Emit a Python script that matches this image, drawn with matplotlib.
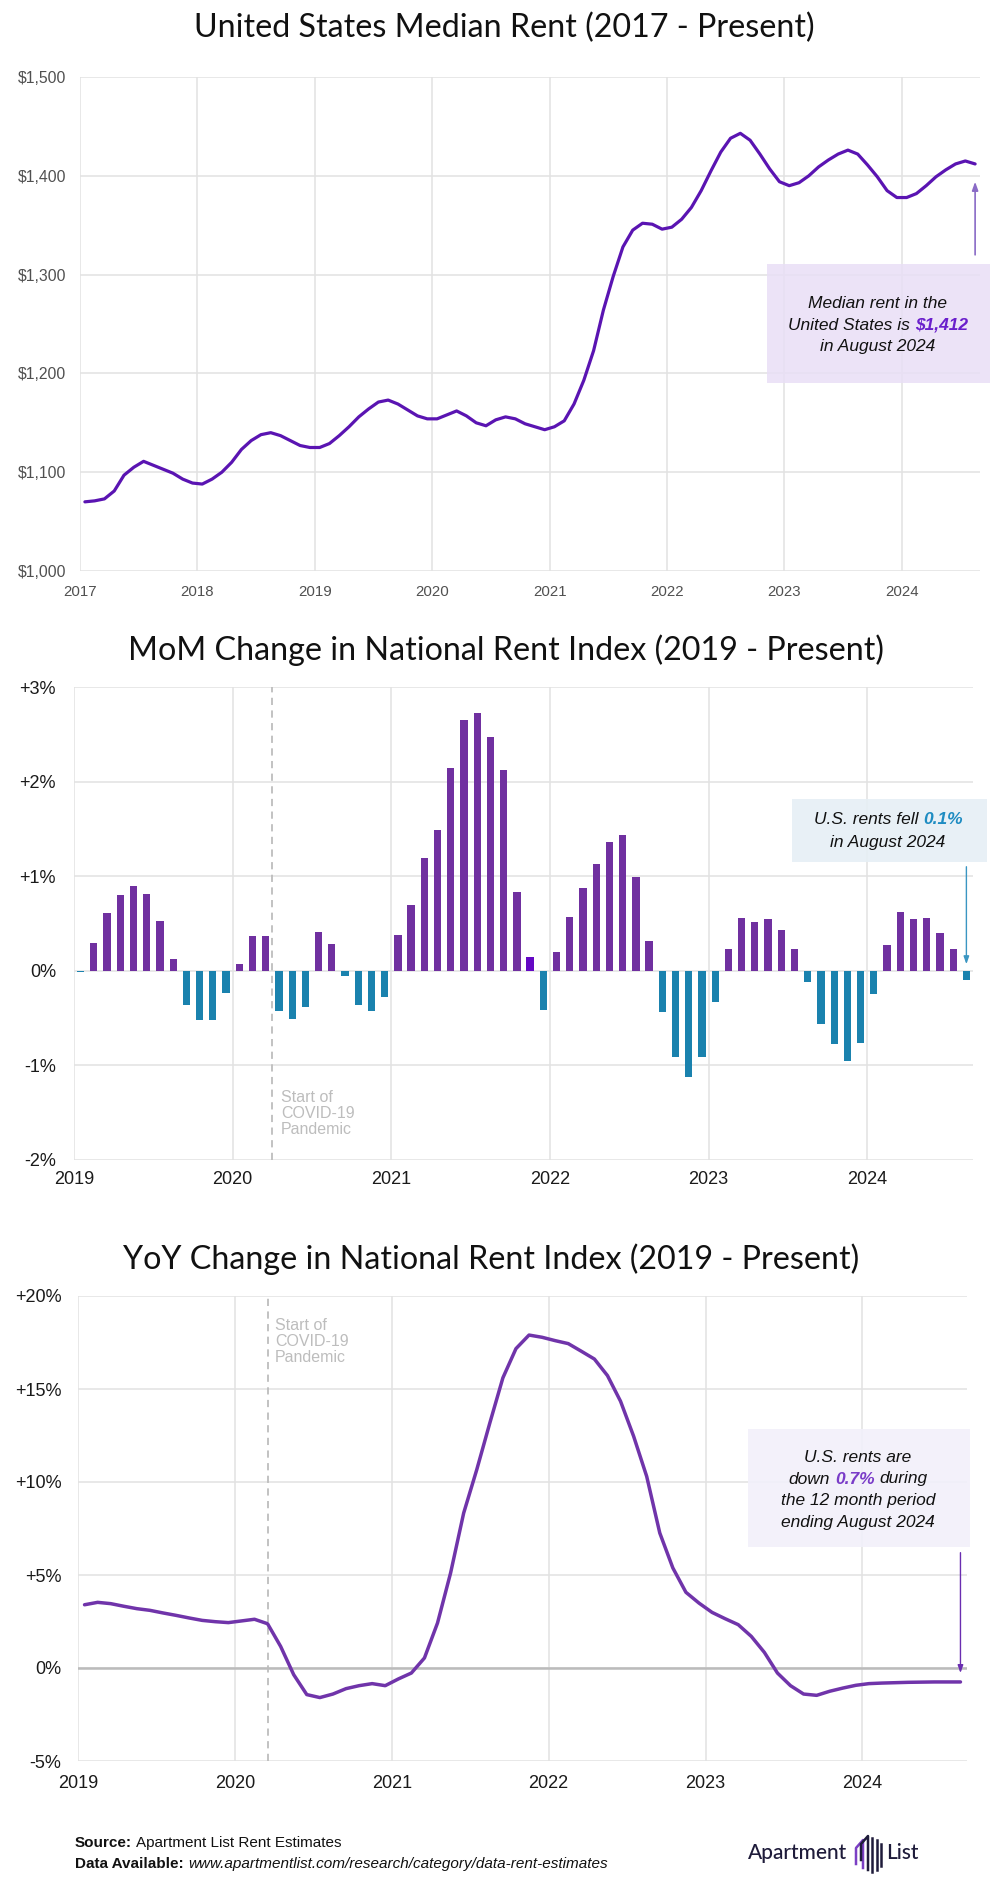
import numpy as np
import matplotlib
matplotlib.use("Agg")
import matplotlib.pyplot as plt
from matplotlib.patches import Rectangle
from matplotlib.lines import Line2D
from matplotlib.ticker import FuncFormatter

# ---- data ----
rent_start_year = 2017
median_rent = [
    1070, 1071, 1073, 1081, 1097, 1105, 1111, 1107, 1103, 1099, 1093, 1089,  # 2017
    1088, 1093, 1100, 1110, 1123, 1132, 1138, 1140, 1137, 1132, 1127, 1125,  # 2018
    1125, 1129, 1137, 1146, 1156, 1164, 1171, 1173, 1169, 1163, 1157, 1154,  # 2019
    1154, 1158, 1162, 1157, 1150, 1147, 1153, 1156, 1154, 1149, 1146, 1143,  # 2020
    1146, 1152, 1169, 1193, 1223, 1264, 1298, 1328, 1345, 1352, 1351, 1346,  # 2021
    1348, 1356, 1368, 1385, 1405, 1424, 1438, 1443, 1436, 1422, 1407, 1394,  # 2022
    1390, 1393, 1400, 1409, 1416, 1422, 1426, 1422, 1411, 1399, 1385, 1378,  # 2023
    1378, 1382, 1390, 1399, 1406, 1412, 1415, 1412,                          # 2024
]

index_start_year = 2019
mom_change = [
    -0.01, 0.29, 0.61, 0.80, 0.90, 0.81, 0.53, 0.12, -0.36, -0.52, -0.52, -0.23,  # 2019
    0.07, 0.37, 0.37, -0.42, -0.51, -0.38, 0.41, 0.28, -0.05, -0.36, -0.43, -0.28,  # 2020
    0.38, 0.70, 1.19, 1.49, 2.14, 2.65, 2.73, 2.47, 2.12, 0.83, 0.15, -0.41,        # 2021
    0.20, 0.57, 0.88, 1.13, 1.36, 1.44, 0.99, 0.31, -0.44, -0.91, -1.12, -0.91,     # 2022
    -0.33, 0.23, 0.56, 0.52, 0.55, 0.43, 0.23, -0.12, -0.56, -0.77, -0.95, -0.76,   # 2023
    -0.24, 0.27, 0.62, 0.55, 0.56, 0.40, 0.23, -0.10,                               # 2024
]
yoy_change = [
    3.40, 3.53, 3.46, 3.32, 3.19, 3.10, 2.96, 2.83, 2.69, 2.56, 2.49, 2.44,          # 2019
    2.53, 2.62, 2.38, 1.16, -0.36, -1.43, -1.59, -1.40, -1.11, -0.95, -0.84, -0.95,  # 2020
    -0.59, -0.27, 0.54, 2.42, 5.11, 8.33, 10.66, 13.17, 15.60, 17.17, 17.90, 17.78,  # 2021
    17.60, 17.44, 17.03, 16.61, 15.72, 14.34, 12.46, 10.30, 7.26, 5.38, 4.07, 3.49,  # 2022
    2.99, 2.65, 2.33, 1.70, 0.84, -0.27, -0.95, -1.40, -1.47, -1.25, -1.08, -0.93,   # 2023
    -0.84, -0.81, -0.79, -0.77, -0.76, -0.75, -0.75, -0.75,                          # 2024
]
highlight_bar = 34  # Nov 2021 bar is drawn in a brighter violet in the original
covid_bar_x = 2020.25
covid_line_x = 2020 + 2.5 / 12

rent_years = list(range(2017, 2025))
index_years = list(range(2019, 2025))
rent_ticks = [1000, 1100, 1200, 1300, 1400, 1500]
mom_ticks = [-2, -1, 0, 1, 2, 3]
yoy_ticks = [-5, 0, 5, 10, 15, 20]

# ---- colours / fonts ----
PURPLE_LINE = "#5A14B2"
PURPLE_BAR = "#7030A0"
VIOLET_BAR = "#6408C4"
BLUE_BAR = "#1A82AE"
YOY_LINE = "#7034AA"
GRID = "#E2E2E2"
TITLE_FONT = "Lato"
SANS = ["Liberation Sans", "DejaVu Sans"]

W, H = 1008, 1902
fig = plt.figure(figsize=(W / 100, H / 100), dpi=100)
fig.patch.set_facecolor("white")


def fx(px):
    return px / W


def fy(py):
    return 1 - py / H


def month_x(start, n):
    return start + (np.arange(n) + 0.5) / 12


def style_axes(ax, xsize, ysize, tick_color, xpad, ypad):
    for s in ax.spines.values():
        s.set_visible(False)
    ax.grid(True, color=GRID, lw=1.1)
    ax.set_axisbelow(True)
    ax.tick_params(length=0, labelcolor=tick_color)
    ax.tick_params(axis="x", pad=xpad, labelsize=xsize)
    ax.tick_params(axis="y", pad=ypad, labelsize=ysize)
    for lab in ax.get_xticklabels() + ax.get_yticklabels():
        lab.set_family(SANS)


def rich_line(xpx, ypx, parts, size, align="center", family=SANS):
    """Draw one line of text made of differently styled pieces."""
    r = fig.canvas.get_renderer()
    gap = 0.278 * size * fig.dpi / 72
    texts = []
    for s, color, weight, style in parts:
        t = fig.text(0, fy(ypx), s, fontsize=size, color=color, fontweight=weight,
                     fontstyle=style, family=family, va="center", ha="left")
        texts.append(t)
    widths = [t.get_window_extent(r).width for t in texts]
    total = sum(widths) + gap * (len(texts) - 1)
    x = xpx - total / 2 if align == "center" else xpx
    for t, w in zip(texts, widths):
        t.set_x(fx(x))
        x += w + gap


def title(xpx, ypx, s):
    fig.text(fx(xpx), fy(ypx), s, ha="center", va="center", fontsize=23.2,
             family=TITLE_FONT, color="#111111")


# ---------------- chart 1: median rent ----------------
ax1 = fig.add_axes([fx(80), fy(571), fx(900), 494 / H])
ax1.plot(month_x(rent_start_year, len(median_rent)), median_rent, color=PURPLE_LINE,
         lw=2.3, solid_joinstyle="round", solid_capstyle="round")
ax1.set_xlim(2017, 2024 + 8 / 12)
ax1.set_ylim(1000, 1500)
ax1.set_xticks(rent_years)
ax1.set_yticks(rent_ticks)
ax1.yaxis.set_major_formatter(FuncFormatter(lambda v, p: f"${v:,.0f}"))
style_axes(ax1, 10.8, 11.3, "#505050", 10, 10)
title(504, 28, "United States Median Rent (2017 - Present)")

fig.patches.append(Rectangle((fx(767), fy(383)), fx(223), 119 / H, transform=fig.transFigure,
                             facecolor="#E9DFF6", edgecolor="none", alpha=0.85, zorder=3))
ax1.annotate("", xy=(2024.625, 1394), xytext=(2024.625, 1320),
             arrowprops=dict(arrowstyle="-|>,head_length=0.5,head_width=0.18",
                             color="#8A6BC6", lw=1.2, shrinkA=0, shrinkB=0))
rich_line(878, 303, [("Median rent in the", "#111111", "normal", "italic")], 12.5)
rich_line(878, 325, [("United States is", "#111111", "normal", "italic"),
                     ("$1,412", "#6A1FCC", "bold", "italic")], 12.5)
rich_line(878, 347, [("in August 2024", "#111111", "normal", "italic")], 12.5)

# ---------------- chart 2: MoM change ----------------
ax2 = fig.add_axes([fx(74), fy(1160), fx(899), 473 / H])
bar_colors = [PURPLE_BAR if v >= 0 else BLUE_BAR for v in mom_change]
bar_colors[highlight_bar] = VIOLET_BAR
ax2.bar(month_x(index_start_year, len(mom_change)), mom_change, width=0.55 / 12,
        color=bar_colors, zorder=3)
ax2.set_xlim(2019, 2024 + 8 / 12)
ax2.set_ylim(-2, 3)
ax2.set_xticks(index_years)
ax2.set_yticks(mom_ticks)
ax2.yaxis.set_major_formatter(FuncFormatter(lambda v, p: f"{v:+.0f}%" if v > 0 else f"{v:.0f}%"))
style_axes(ax2, 13, 13, "#1A1A1A", 8, 13)
ax2.axvline(covid_bar_x, color="#BDBDBD", lw=1.3, ls=(0, (4, 3)), zorder=2)
fig.text(fx(281), fy(1090), "Start of\nCOVID-19\nPandemic", ha="left", va="top",
         fontsize=11.5, color="#BDBDBD", family=SANS, linespacing=1.1)
title(506, 650, "MoM Change in National Rent Index (2019 - Present)")

fig.patches.append(Rectangle((fx(792), fy(862)), fx(195), 63 / H, transform=fig.transFigure,
                             facecolor="#E6EFF5", edgecolor="none", alpha=0.9, zorder=3))
ax2.annotate("", xy=(2024.625, 0.07), xytext=(2024.625, 1.10),
             arrowprops=dict(arrowstyle="-|>,head_length=0.45,head_width=0.16",
                             color="#3A96C2", lw=1.0, shrinkA=0, shrinkB=0), zorder=4)
rich_line(888, 820, [("U.S. rents fell", "#111111", "normal", "italic"),
                     ("0.1%", "#1E8CC2", "bold", "italic")], 12.5)
rich_line(888, 843, [("in August 2024", "#111111", "normal", "italic")], 12.5)

# ---------------- chart 3: YoY change ----------------
ax3 = fig.add_axes([fx(78), fy(1761), fx(889), 465 / H])
ax3.plot(month_x(index_start_year, len(yoy_change)), yoy_change, color=YOY_LINE, lw=2.5,
         solid_joinstyle="round", solid_capstyle="round", zorder=3)
ax3.set_xlim(2019, 2024 + 8 / 12)
ax3.set_ylim(-5, 20)
ax3.set_xticks(index_years)
ax3.set_yticks(yoy_ticks)
ax3.yaxis.set_major_formatter(FuncFormatter(lambda v, p: f"{v:+.0f}%" if v > 0 else f"{v:.0f}%"))
style_axes(ax3, 13, 13, "#1A1A1A", 10, 12)
ax3.axhline(0, color="#BBBBBB", lw=1.8, zorder=2)
ax3.axvline(covid_line_x, color="#BDBDBD", lw=1.3, ls=(0, (4, 3)), zorder=2)
fig.text(fx(275), fy(1318), "Start of\nCOVID-19\nPandemic", ha="left", va="top",
         fontsize=11.5, color="#BDBDBD", family=SANS, linespacing=1.1)
title(491, 1259, "YoY Change in National Rent Index (2019 - Present)")

fig.patches.append(Rectangle((fx(748), fy(1547)), fx(222), 118 / H, transform=fig.transFigure,
                             facecolor="#F2F0FA", edgecolor="none", alpha=0.9, zorder=3))
ax3.annotate("", xy=(2024.625, -0.27), xytext=(2024.625, 6.2),
             arrowprops=dict(arrowstyle="-|>,head_length=0.45,head_width=0.16",
                             color="#6A2DB0", lw=1.0, shrinkA=0, shrinkB=0), zorder=4)
rich_line(858, 1457, [("U.S. rents are", "#111111", "normal", "italic")], 12.5)
rich_line(858, 1479, [("down", "#111111", "normal", "italic"),
                      ("0.7%", "#7A3CC8", "bold", "italic"),
                      ("during", "#111111", "normal", "italic")], 12.5)
rich_line(858, 1501, [("the 12 month period", "#111111", "normal", "italic")], 12.5)
rich_line(858, 1522, [("ending August 2024", "#111111", "normal", "italic")], 12.5)

# ---------------- footer ----------------
narrow = ["Liberation Sans Narrow", "Liberation Sans"]
rich_line(75, 1843, [("Source:", "#111111", "bold", "normal"),
                     ("Apartment List Rent Estimates", "#111111", "normal", "normal")],
          11, align="left", family=narrow)
rich_line(75, 1864, [("Data Available:", "#111111", "bold", "normal"),
                     ("www.apartmentlist.com/research/category/data-rent-estimates",
                      "#111111", "normal", "italic")],
          11, align="left", family=narrow)

# logo
fig.text(fx(748), fy(1853), "Apartment", ha="left", va="center", fontsize=15,
         family=TITLE_FONT, fontweight="medium", color="#1E1B3A")
fig.text(fx(886), fy(1853), "List", ha="left", va="center", fontsize=15,
         family=TITLE_FONT, fontweight="medium", color="#1E1B3A")
icon = [
    ([856, 856, 863, 863], [1864, 1848, 1840, 1868], "#7B3FC4"),
    ([861, 861, 868, 868], [1860, 1844, 1836, 1870], "#1E1B3A"),
    ([872, 872], [1838, 1872], "#1E1B3A"),
    ([877, 877], [1840, 1870], "#1E1B3A"),
    ([881, 881], [1844, 1866], "#1E1B3A"),
]
for xs, ys, c in icon:
    fig.lines.append(Line2D([fx(v) for v in xs], [fy(v) for v in ys], color=c, lw=1.8,
                            transform=fig.transFigure))

fig.savefig("out.png", dpi=100, facecolor="white")
